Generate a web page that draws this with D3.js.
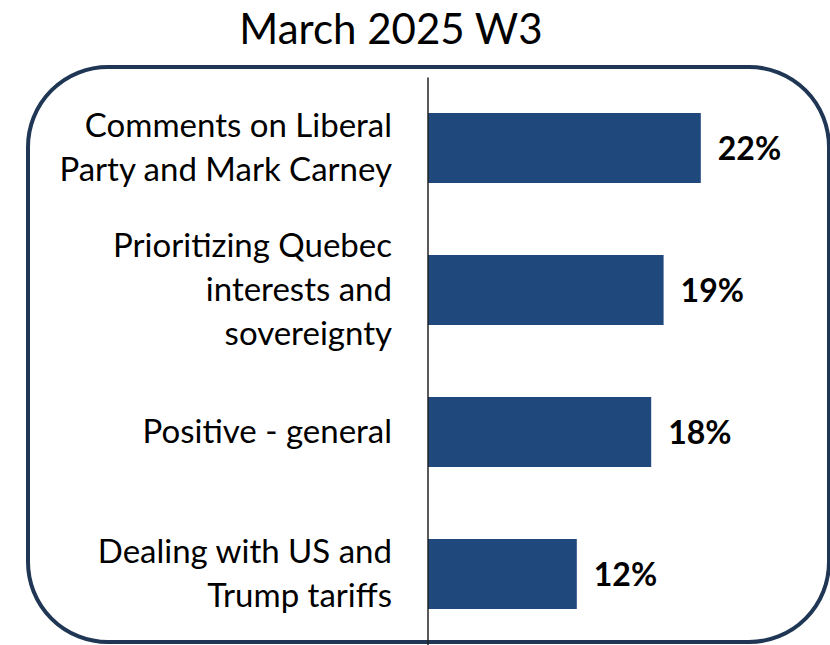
<!DOCTYPE html>
<html>
<head>
<meta charset="utf-8">
<script src="https://cdn.jsdelivr.net/npm/d3@7"></script>
<style>
  html, body { margin: 0; padding: 0; background: #ffffff; }
  svg { display: block; }
</style>
</head>
<body>
<svg id="chart" width="830" height="645"></svg>
<script>
// Survey themes, week 3 of March 2025
const title = "March 2025 W3";
const categories = [
  ["Comments on Liberal", "Party and Mark Carney"],
  ["Prioritizing Quebec", "interests and", "sovereignty"],
  ["Positive - general"],
  ["Dealing with US and", "Trump tariffs"]
];
const values = [22, 19, 18, 12];

const W = 830, H = 645;
const barColor = "#1f497d";
const frameColor = "#1f3654";
const font = "Lato, 'Open Sans', sans-serif";

const svg = d3.select("#chart");

// rounded frame around the plot
svg.append("rect")
  .attr("x", 28).attr("y", 67)
  .attr("width", 801).attr("height", 575)
  .attr("rx", 80).attr("ry", 80)
  .attr("fill", "none")
  .attr("stroke", frameColor)
  .attr("stroke-width", 4);

// title
svg.append("text")
  .attr("x", 391).attr("y", 44)
  .attr("text-anchor", "middle")
  .attr("font-family", font)
  .attr("font-size", 42)
  .attr("fill", "#000")
  .text(title);

const x = d3.scaleLinear().domain([0, 25]).range([428, 738]);
const y = d3.scaleBand()
  .domain(d3.range(categories.length))
  .range([77.5, 644.5])
  .paddingInner(0.507)
  .paddingOuter(0.25);

// bars
svg.append("g").selectAll("rect")
  .data(values)
  .join("rect")
  .attr("x", x(0))
  .attr("y", (d, i) => y(i))
  .attr("width", d => x(d) - x(0))
  .attr("height", y.bandwidth())
  .attr("fill", barColor);

// value labels
svg.append("g").selectAll("text")
  .data(values)
  .join("text")
  .attr("x", d => x(d) + 17)
  .attr("y", (d, i) => y(i) + y.bandwidth() / 2 + 12)
  .attr("font-family", font)
  .attr("font-weight", "bold")
  .attr("font-size", 32)
  .attr("fill", "#000")
  .text(d => d + "%");

// category labels, right-aligned against the axis
const lineH = 44;
const catG = svg.append("g");
categories.forEach((lines, i) => {
  const cy = y(i) + y.bandwidth() / 2;
  const t = catG.append("text")
    .attr("text-anchor", "end")
    .attr("font-family", font)
    .attr("font-size", 33)
    .attr("fill", "#000");
  lines.forEach((ln, j) => {
    t.append("tspan")
      .attr("x", 392)
      .attr("y", cy + (j - (lines.length - 1) / 2) * lineH + 11)
      .text(ln);
  });
});

// vertical axis line
svg.append("line")
  .attr("x1", x(0)).attr("x2", x(0))
  .attr("y1", 77.5).attr("y2", H)
  .attr("stroke", "#222")
  .attr("stroke-width", 1.5);
</script>
</body>
</html>
